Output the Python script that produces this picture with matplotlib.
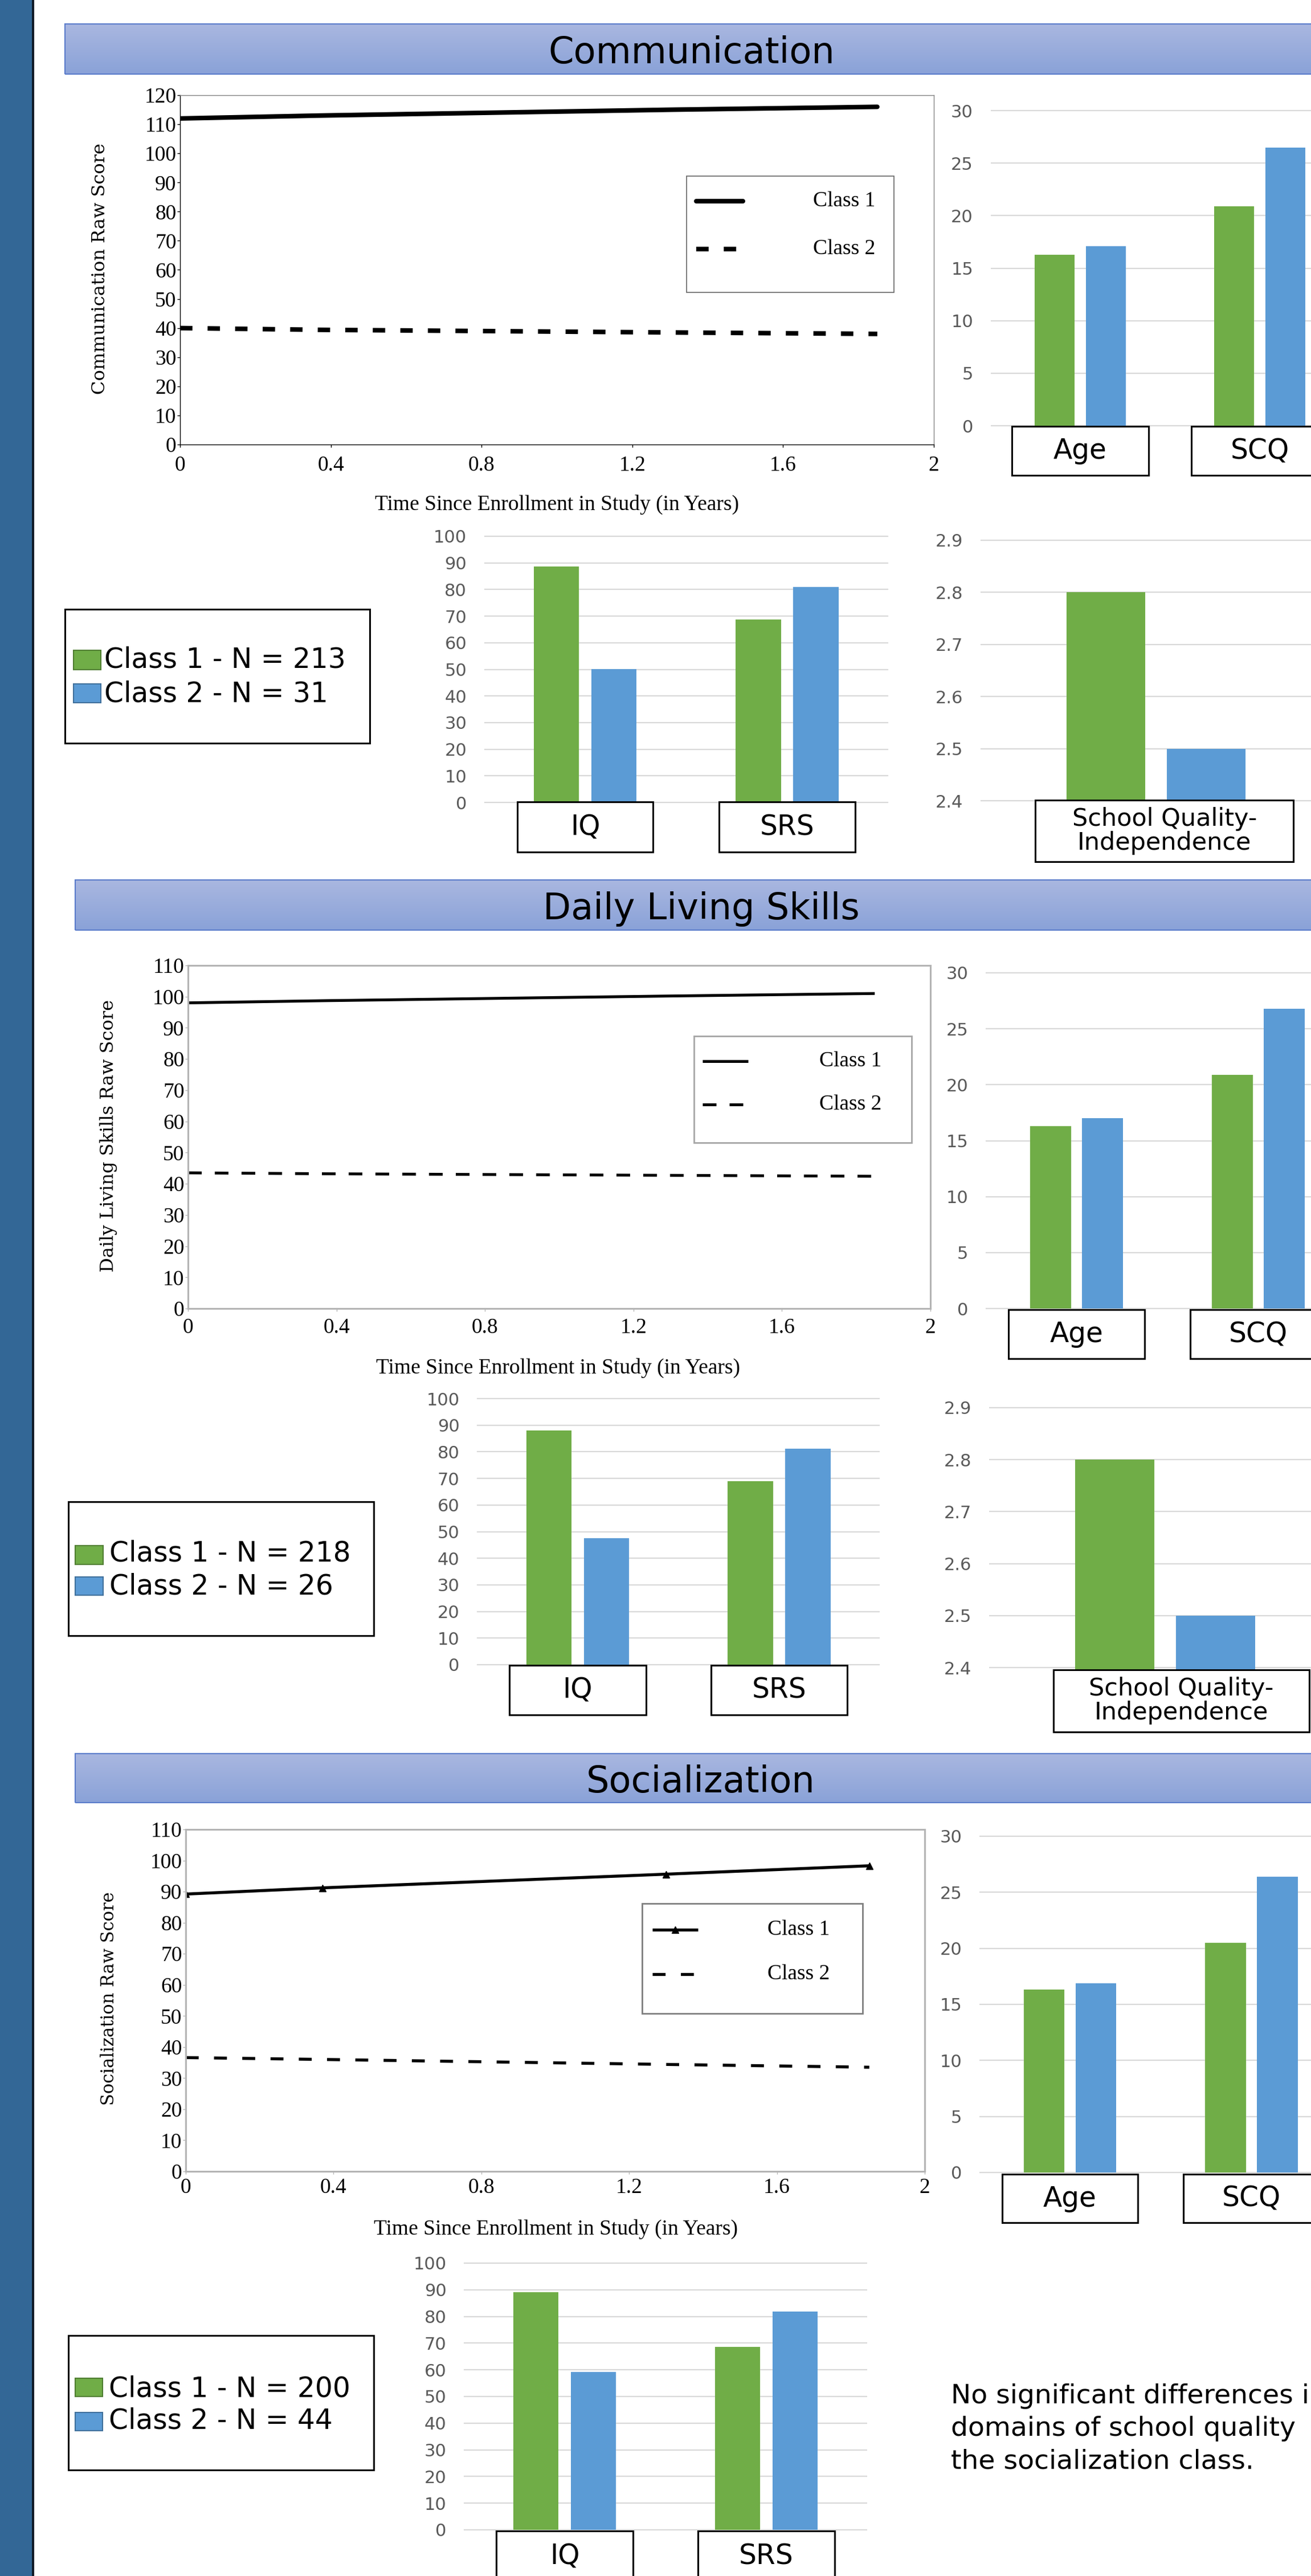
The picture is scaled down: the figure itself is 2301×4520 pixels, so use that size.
import numpy as np
import matplotlib
matplotlib.use('Agg')
import matplotlib.pyplot as plt
import matplotlib.transforms as mtransforms
from matplotlib.patches import Rectangle
from matplotlib.lines import Line2D
from matplotlib.colors import LinearSegmentedColormap
from matplotlib.ticker import FuncFormatter

years = [0, 0.37, 1.3, 1.85]

comm_class1 = [112, 113, 115, 116]
comm_class2 = [40, 39.4, 38.5, 38]
dls_class1 = [98, 98.7, 100.2, 101]
dls_class2 = [43.5, 43.2, 42.7, 42.4]
soc_class1 = [89.2, 91.2, 95.6, 98.3]
soc_class2 = [36.6, 36.0, 34.4, 33.5]

demo_cats = ['Age', 'SCQ']
comm_demo_c1 = [16.3, 20.9]
comm_demo_c2 = [17.1, 26.5]
dls_demo_c1 = [16.3, 20.9]
dls_demo_c2 = [17.0, 26.8]
soc_demo_c1 = [16.3, 20.5]
soc_demo_c2 = [16.9, 26.4]

score_cats = ['IQ', 'SRS']
comm_score_c1 = [88.7, 68.7]
comm_score_c2 = [50.1, 80.9]
dls_score_c1 = [88.0, 68.9]
dls_score_c2 = [47.5, 81.1]
soc_score_c1 = [89.2, 68.6]
soc_score_c2 = [59.2, 81.8]

school_cats = ['School Quality-\nIndependence']
comm_school_c1 = [2.8]
comm_school_c2 = [2.5]
dls_school_c1 = [2.8]
dls_school_c2 = [2.5]

comm_n = [213, 31]
dls_n = [218, 26]
soc_n = [200, 44]

line_labels = ['Class 1', 'Class 2']
note_lines = ['No significant differences in',
              'domains of school quality',
              'the socialization class.']

# ---- look ----
W, H = 2301, 4520
GREEN, BLUE = '#70AD47', '#5B9BD5'
SERIF = 'Liberation Serif'
plt.rcParams['font.family'] = 'DejaVu Sans'

fig = plt.figure(figsize=(W / 100, H / 100), dpi=100)
fig.patch.set_facecolor('white')
# pixel coordinates, origin at top left
pix = mtransforms.Affine2D().scale(1 / W, -1 / H).translate(0, 1) + fig.transFigure


def add_ax(l, t, r, b):
    return fig.add_axes([l / W, 1 - b / H, (r - l) / W, (b - t) / H])


def span(p0, v0, p1, v1, lo, hi):
    k = (p1 - p0) / (v1 - v0)
    return p0 + (lo - v0) * k, p0 + (hi - v0) * k


# side band
fig.add_artist(Rectangle((0, 0), 58, H, transform=pix, color='#336796', lw=0))
fig.add_artist(Rectangle((56, 0), 4, H, transform=pix, color='#0d1a26', lw=0))

head_cmap = LinearSegmentedColormap.from_list('head', ['#a9b7e0', '#8aa2d8'])


def header(title, l, t, r, b):
    ax = add_ax(l, t, r, b)
    ax.imshow(np.linspace(0, 1, 64).reshape(-1, 1), cmap=head_cmap,
              aspect='auto', extent=[0, 1, 0, 1])
    ax.set_axis_off()
    ax.add_patch(Rectangle((0, 0), 1, 1, transform=ax.transAxes, fill=False,
                           ec='#5b7ccb', lw=1.5, clip_on=False))
    ax.text(0.5, 0.5, title, transform=ax.transAxes, ha='center',
            va='center_baseline', fontsize=46)


def line_panel(rect, ymax, c1, c2, st1, st2, xlab_xy, ylab, ylab_xy, ylab_size,
               spine_main, spine_other, spine_w, xpad):
    ax = add_ax(*rect)
    ax.plot(years, c1, **st1)
    ax.plot(years, c2, **st2)
    ax.set_xlim(0, 2)
    ax.set_ylim(0, ymax)
    ax.set_xticks([0, 0.4, 0.8, 1.2, 1.6, 2])
    ax.xaxis.set_major_formatter(FuncFormatter(lambda v, p: f'{v:g}'))
    ax.set_yticks(np.arange(0, ymax + 1, 10))
    for side in ['left', 'bottom']:
        ax.spines[side].set_color(spine_main)
        ax.spines[side].set_linewidth(spine_w)
    for side in ['top', 'right']:
        ax.spines[side].set_color(spine_other)
        ax.spines[side].set_linewidth(spine_w)
    ax.tick_params(axis='both', direction='out', length=3.6, width=1,
                   color=spine_main, labelsize=27)
    ax.tick_params(axis='y', pad=1)
    ax.tick_params(axis='x', pad=xpad)
    for lab in ax.get_xticklabels() + ax.get_yticklabels():
        lab.set_family(SERIF)
    ax.set_xlabel('Time Since Enrollment in Study (in Years)', family=SERIF,
                  fontsize=27, va='center')
    ax.xaxis.set_label_coords(*xlab_xy, transform=pix)
    ax.set_ylabel(ylab, family='DejaVu Serif', fontsize=ylab_size, va='center')
    ax.yaxis.set_label_coords(*ylab_xy, transform=pix)
    return ax


def line_key(box, sx, rows, tx, styles, ec, elw):
    fig.add_artist(Rectangle((box[0], box[1]), box[2] - box[0], box[3] - box[1],
                             transform=pix, fill=False, ec=ec, lw=elw))
    for y, lab, st in zip(rows, line_labels, styles):
        fig.add_artist(Line2D([sx[0], (sx[0] + sx[1]) / 2, sx[1]], [y, y, y],
                              transform=pix, markevery=[1], **st))
        fig.text(tx, y, lab, transform=pix, family=SERIF, fontsize=27,
                 va='center', ha='left')


def bar_panel(cats, c1, c2, c0, step, yp0, yv0, yp1, yv1, ylim, yticks, fmt,
              box_w, box_t, box_b, box_dx=0.0, cat_size=35):
    n = len(cats)
    l, r = span(c0, 0, c0 + step, 1, -0.5, n - 0.5)
    b, t = span(yp0, yv0, yp1, yv1, ylim[0], ylim[1])
    ax = add_ax(l, t, r, b)
    x = np.arange(n)
    ax.bar(x - 0.143, c1, 0.224, color=GREEN, zorder=3)
    ax.bar(x + 0.143, c2, 0.224, color=BLUE, zorder=3)
    ax.set_xlim(-0.5, n - 0.5)
    ax.set_ylim(*ylim)
    ax.set_yticks(yticks)
    ax.yaxis.set_major_formatter(FuncFormatter(lambda v, p: fmt.format(v)))
    ax.grid(axis='y', color='#d9d9d9', lw=1.6)
    ax.set_axisbelow(True)
    for s in ax.spines.values():
        s.set_visible(False)
    ax.set_xticks([])
    ax.tick_params(axis='y', length=0, pad=22, labelsize=22, labelcolor='#595959')
    ax.patch.set_alpha(0)
    tr = mtransforms.blended_transform_factory(ax.transData, pix)
    for i, cat in enumerate(cats):
        ax.add_patch(Rectangle((i + box_dx - box_w / 2, box_t), box_w, box_b - box_t,
                               transform=tr, fc='white', ec='black', lw=2.2,
                               clip_on=False, zorder=5))
        ax.text(i + box_dx, (box_t + box_b) / 2, cat, transform=tr, ha='center',
                va='center', fontsize=cat_size, linespacing=1.0, zorder=6)
    return ax


def class_key(box, sx, sq_rows, tx, txt_rows, ns):
    fig.add_artist(Rectangle((box[0], box[1]), box[2] - box[0], box[3] - box[1],
                             transform=pix, fill=False, ec='black', lw=2.2))
    for (y0, y1), ty, n, fc, ec, k in zip(sq_rows, txt_rows, ns, [GREEN, BLUE],
                                         ['#507e32', '#41719c'], [1, 2]):
        fig.add_artist(Rectangle((sx[0], y0), sx[1] - sx[0], y1 - y0, transform=pix,
                                 fc=fc, ec=ec, lw=1.5))
        fig.text(tx, ty, f'Class {k} - N = {n}', transform=pix, fontsize=35,
                 va='center', ha='left')


# ---- line styles ----
comm_st1 = dict(color='black', lw=5.8, solid_capstyle='round')
comm_st2 = dict(color='black', lw=5.8, ls=(0, (2.7, 3.3)), dash_capstyle='butt')
dls_st1 = dict(color='black', lw=3.6, solid_capstyle='butt')
dls_st2 = dict(color='black', lw=3.6, ls=(0, (4.8, 4.6)), dash_capstyle='butt')
soc_st1 = dict(color='black', lw=3.8, marker='^', ms=9, solid_capstyle='butt')
soc_st2 = dict(color='black', lw=3.8, ls=(0, (4.3, 5.1)), dash_capstyle='butt')

# ================= Communication =================
header('Communication', 114, 42, 2314, 130)
line_panel((316, 167, 1639, 780), 120, comm_class1, comm_class2, comm_st1, comm_st2,
           (978, 885), 'Communication Raw Score', (176, 472), 23,
           'black', '#808080', 1.0, 10.8)
line_key((1205, 309, 1569, 513), (1222, 1304), (353, 437), 1427,
         [comm_st1, comm_st2], '#666666', 1.2)
bar_panel(demo_cats, comm_demo_c1, comm_demo_c2, 1896, 315, 747, 0, 194, 30,
          (-0.15, 30.5), np.arange(0, 31, 5), '{:g}', 0.765, 748, 834)
bar_panel(score_cats, comm_score_c1, comm_score_c2, 1027, 354.5, 1408, 0, 941, 100,
          (-0.5, 101.5), np.arange(0, 101, 10), '{:g}', 0.674, 1407, 1495)
bar_panel(school_cats, comm_school_c1, comm_school_c2, 2029, 616, 1405, 2.4, 948, 2.9,
          (2.397, 2.91), np.arange(2.4, 2.95, 0.1), '{:.1f}', 0.735, 1404, 1512,
          box_dx=0.024, cat_size=31)
class_key((114, 1069, 649, 1304), (129, 177), [(1141, 1175), (1200, 1233)], 183,
          (1158, 1217), comm_n)

# ================= Daily Living Skills =================
header('Daily Living Skills', 132, 1544, 2330, 1632)
line_panel((330, 1694, 1633, 2296), 110, dls_class1, dls_class2, dls_st1, dls_st2,
           (980, 2400), 'Daily Living Skills Raw Score', (191, 1993), 23,
           '#b4b4b4', '#b4b4b4', 2.2, 8.6)
line_key((1218, 1818, 1600, 2005), (1233, 1313), (1862, 1938), 1438,
         [dls_st1, dls_st2], '#a6a6a6', 2.0)
bar_panel(demo_cats, dls_demo_c1, dls_demo_c2, 1889.5, 319, 2296, 0, 1707, 30,
          (-0.15, 30.5), np.arange(0, 31, 5), '{:g}', 0.75, 2298, 2384)
bar_panel(score_cats, dls_score_c1, dls_score_c2, 1014, 353.5, 2921, 0, 2454, 100,
          (-0.5, 101.5), np.arange(0, 101, 10), '{:g}', 0.677, 2922, 3009)
bar_panel(school_cats, dls_school_c1, dls_school_c2, 2045, 618, 2926, 2.4, 2470, 2.9,
          (2.397, 2.91), np.arange(2.4, 2.95, 0.1), '{:.1f}', 0.727, 2930, 3039,
          box_dx=0.046, cat_size=31)
class_key((120, 2635, 656, 2870), (132, 181), [(2712, 2745), (2767, 2799)], 192,
          (2726, 2784), dls_n)

# ================= Socialization =================
header('Socialization', 132, 3077, 2328, 3163)
line_panel((326, 3210, 1623, 3810), 110, soc_class1, soc_class2, soc_st1, soc_st2,
           (976, 3911), 'Socialization Raw Score', (191, 3507), 22,
           '#b4b4b4', '#b4b4b4', 2.2, 5.0)
line_key((1127, 3340, 1514, 3533), (1145, 1225), (3386, 3464), 1347,
         [soc_st1, soc_st2], '#7f7f7f', 2.0)
bar_panel(demo_cats, soc_demo_c1, soc_demo_c2, 1878, 318.5, 3812, 0, 3222, 30,
          (-0.15, 30.5), np.arange(0, 31, 5), '{:g}', 0.75, 3815, 3900)
bar_panel(score_cats, soc_score_c1, soc_score_c2, 991, 354, 4439, 0, 3971, 100,
          (-0.5, 101.5), np.arange(0, 101, 10), '{:g}', 0.677, 4441, 4530)
class_key((120, 4098, 656, 4334), (132, 180), [(4173, 4205), (4233, 4265)], 191,
          (4191, 4248), soc_n)

for i, line in enumerate(note_lines):
    fig.text(1669, 4217 + 57 * i, line, transform=pix, fontsize=34,
             va='baseline', ha='left')

fig.savefig('out.png', dpi=100)
